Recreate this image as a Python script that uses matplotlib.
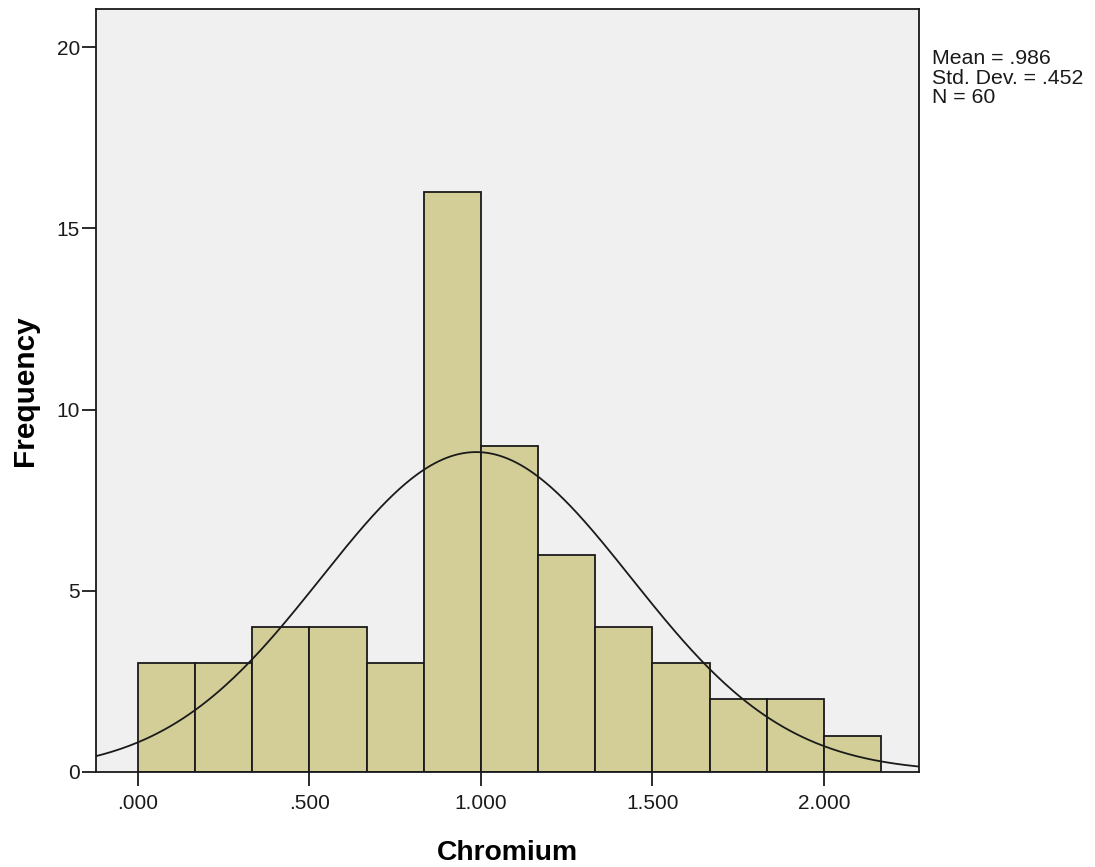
import numpy as np
import matplotlib.pyplot as plt

plt.rcParams['font.family'] = ['Liberation Sans', 'DejaVu Sans']

# histogram bins (width 1/6) and counts
bin_width = 1.0 / 6.0
bin_starts = [i * bin_width for i in range(13)]
counts = [3, 3, 4, 4, 3, 16, 9, 6, 4, 3, 2, 2, 1]

mean = 0.986
std = 0.452
n = 60

xticks = [0.0, 0.5, 1.0, 1.5, 2.0]
xtick_labels = [".000", ".500", "1.000", "1.500", "2.000"]
yticks = [0, 5, 10, 15, 20]

fig = plt.figure(figsize=(10.95, 8.67), dpi=100)
ax = fig.add_axes([0.0877, 0.1096, 0.7516, 0.8800])
ax.set_facecolor("#f0f0f0")

ax.bar(bin_starts, counts, width=bin_width, align="edge",
       color="#d3ce97", edgecolor="#1a1a1a", linewidth=1.3, zorder=2)

# normal curve scaled to counts
xlo, xhi = -0.122, 2.277
xs = np.linspace(xlo, xhi, 400)
ys = n * bin_width / (std * np.sqrt(2 * np.pi)) * np.exp(-0.5 * ((xs - mean) / std) ** 2)
ax.plot(xs, ys, color="#1a1a1a", linewidth=1.3, zorder=3)

ax.set_xlim(xlo, xhi)
ax.set_ylim(0, 21.05)
ax.set_xticks(xticks)
ax.set_xticklabels(xtick_labels)
ax.set_yticks(yticks)
ax.tick_params(axis="both", direction="out", length=10, width=1.3,
               labelsize=15, color="#1a1a1a", labelcolor="#1a1a1a")
ax.tick_params(axis="x", pad=6)
ax.tick_params(axis="y", pad=1.5)
for s in ax.spines.values():
    s.set_linewidth(1.3)
    s.set_color("#1a1a1a")

ax.set_xlabel("Chromium", fontsize=20.3, fontweight="bold", labelpad=19)
ax.set_ylabel("Frequency", fontsize=21.4, fontweight="bold", labelpad=13)

fig.text(0.851, 0.943, "Mean = .986\nStd. Dev. = .452\nN = 60",
         fontsize=15.3, va="top", ha="left", linespacing=1.02, color="#1a1a1a")

fig.savefig("out.png", dpi=100)
